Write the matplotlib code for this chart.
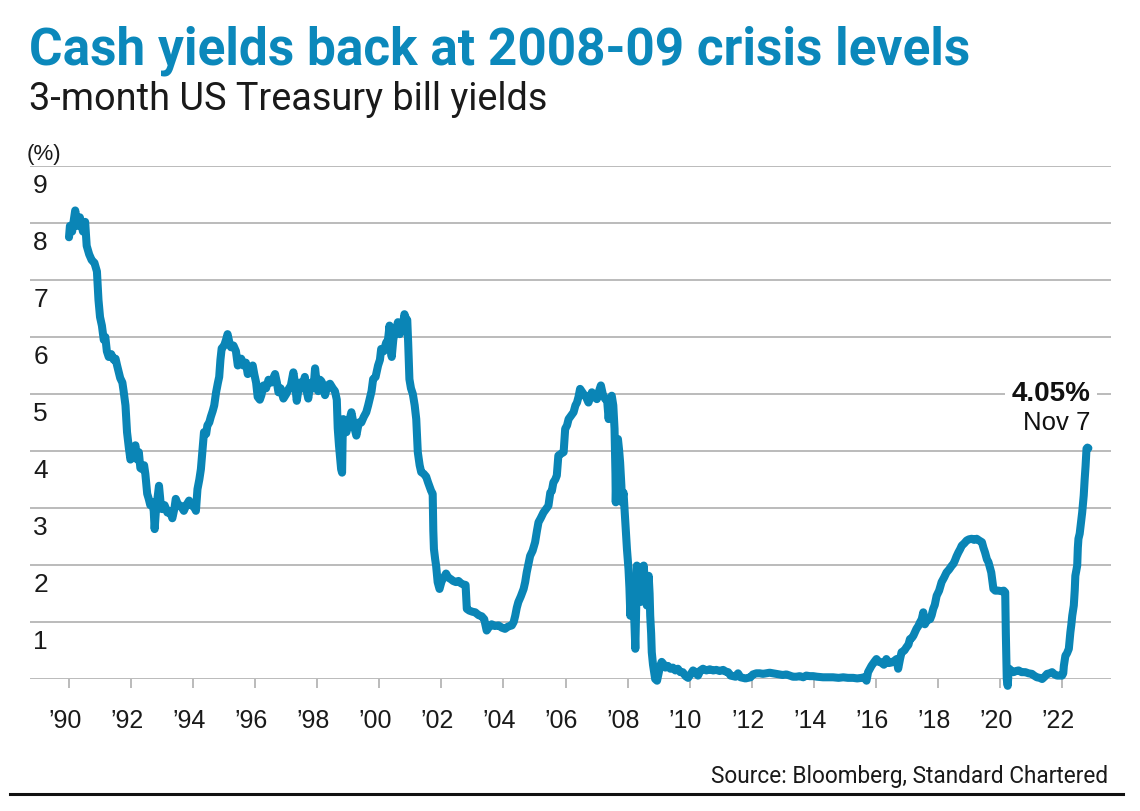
import matplotlib
matplotlib.use("Agg")
import matplotlib.pyplot as plt
from matplotlib.lines import Line2D

W, H, DPI = 1140, 812, 100
BLUE = "#0a85b6"
TITLE_BLUE = "#0b88bb"
GRID = "#a8a8a8"

title = "Cash yields back at 2008-09 crisis levels"
subtitle = "3-month US Treasury bill yields"
unit = "(%)"
source = "Source: Bloomberg, Standard Chartered"
last_value = "4.05%"
last_date = "Nov 7"

y_ticks = [1, 2, 3, 4, 5, 6, 7, 8, 9]
x_ticks = list(range(1990, 2023, 2))
x_labels = ["\u2019%02d" % (y % 100) for y in x_ticks]

# 3-month bill yield (%); dates as decimal years
dates = [
    1990.00, 1990.03, 1990.10, 1990.20, 1990.28, 1990.35, 1990.45, 1990.52, 1990.57, 1990.65,
    1990.73, 1990.82, 1990.90, 1990.95, 1991.00, 1991.06, 1991.12, 1991.17, 1991.22, 1991.28,
    1991.36, 1991.44, 1991.50, 1991.55, 1991.65, 1991.72, 1991.76, 1991.82, 1991.87, 1991.93,
    1991.98, 1992.05, 1992.14, 1992.20, 1992.25, 1992.30, 1992.36, 1992.42, 1992.46, 1992.52,
    1992.57, 1992.62, 1992.68, 1992.73, 1992.76, 1992.80, 1992.85, 1992.90, 1992.95, 1993.00,
    1993.08, 1993.17, 1993.25, 1993.33, 1993.40, 1993.44, 1993.52, 1993.60, 1993.70, 1993.78,
    1993.87, 1993.93, 1993.98, 1994.05, 1994.09, 1994.14, 1994.20, 1994.25, 1994.30, 1994.35,
    1994.42, 1994.46, 1994.52, 1994.57, 1994.63, 1994.68, 1994.74, 1994.80, 1994.84, 1994.88,
    1994.92, 1995.00, 1995.06, 1995.11, 1995.17, 1995.22, 1995.30, 1995.38, 1995.44, 1995.50,
    1995.55, 1995.62, 1995.70, 1995.76, 1995.84, 1995.92, 1995.97, 1996.03, 1996.08, 1996.15,
    1996.20, 1996.27, 1996.35, 1996.43, 1996.52, 1996.64, 1996.70, 1996.75, 1996.82, 1996.91,
    1997.00, 1997.07, 1997.15, 1997.23, 1997.28, 1997.34, 1997.40, 1997.44, 1997.52, 1997.60,
    1997.66, 1997.71, 1997.77, 1997.82, 1997.88, 1997.93, 1997.98, 1998.03, 1998.09, 1998.14,
    1998.20, 1998.25, 1998.33, 1998.41, 1998.50, 1998.57, 1998.63, 1998.66, 1998.70, 1998.73,
    1998.77, 1998.80, 1998.82, 1998.84, 1998.90, 1998.94, 1999.02, 1999.10, 1999.18, 1999.26,
    1999.34, 1999.42, 1999.50, 1999.58, 1999.64, 1999.69, 1999.75, 1999.80, 1999.88, 1999.96,
    2000.02, 2000.06, 2000.14, 2000.22, 2000.28, 2000.33, 2000.37, 2000.40, 2000.45, 2000.49,
    2000.55, 2000.60, 2000.66, 2000.71, 2000.76, 2000.81, 2000.86, 2000.90, 2000.93, 2000.97,
    2001.02, 2001.08, 2001.14, 2001.19, 2001.22, 2001.24, 2001.30, 2001.35, 2001.43, 2001.51,
    2001.57, 2001.61, 2001.67, 2001.72, 2001.74, 2001.76, 2001.80, 2001.83, 2001.88, 2001.94,
    2002.00, 2002.04, 2002.10, 2002.15, 2002.22, 2002.31, 2002.38, 2002.47, 2002.55, 2002.63,
    2002.70, 2002.78, 2002.82, 2002.90, 2003.00, 2003.09, 2003.20, 2003.30, 2003.38, 2003.46,
    2003.52, 2003.62, 2003.72, 2003.84, 2003.95, 2004.05, 2004.15, 2004.27, 2004.33, 2004.38,
    2004.43, 2004.48, 2004.56, 2004.65, 2004.70, 2004.75, 2004.80, 2004.86, 2004.94, 2005.02,
    2005.08, 2005.13, 2005.20, 2005.29, 2005.37, 2005.45, 2005.51, 2005.56, 2005.61, 2005.67,
    2005.72, 2005.77, 2005.85, 2005.94, 2005.99, 2006.05, 2006.10, 2006.18, 2006.26, 2006.32,
    2006.37, 2006.42, 2006.47, 2006.52, 2006.58, 2006.66, 2006.74, 2006.80, 2006.85, 2006.93,
    2007.01, 2007.08, 2007.14, 2007.20, 2007.28, 2007.34, 2007.39, 2007.44, 2007.49, 2007.54,
    2007.58, 2007.61, 2007.62, 2007.65, 2007.69, 2007.73, 2007.76, 2007.80, 2007.82, 2007.87,
    2007.92, 2007.98, 2008.03, 2008.06, 2008.09, 2008.12, 2008.14, 2008.20, 2008.25, 2008.28,
    2008.30, 2008.36, 2008.41, 2008.46, 2008.52, 2008.57, 2008.62, 2008.68, 2008.71, 2008.73,
    2008.76, 2008.78, 2008.82, 2008.84, 2008.89, 2008.95, 2009.00, 2009.05, 2009.10, 2009.16,
    2009.22, 2009.30, 2009.38, 2009.46, 2009.54, 2009.62, 2009.70, 2009.78, 2009.87, 2009.95,
    2010.03, 2010.11, 2010.19, 2010.27, 2010.35, 2010.43, 2010.54, 2010.65, 2010.76, 2010.86,
    2010.97, 2011.08, 2011.16, 2011.24, 2011.32, 2011.40, 2011.48, 2011.56, 2011.64, 2011.72,
    2011.80, 2011.88, 2011.96, 2012.04, 2012.15, 2012.26, 2012.36, 2012.47, 2012.58, 2012.69,
    2012.80, 2012.90, 2013.00, 2013.12, 2013.22, 2013.33, 2013.44, 2013.55, 2013.66, 2013.76,
    2013.87, 2013.98, 2014.10, 2014.30, 2014.50, 2014.62, 2014.80, 2014.95, 2015.10, 2015.27,
    2015.40, 2015.54, 2015.62, 2015.70, 2015.75, 2015.86, 2015.95, 2016.02, 2016.10, 2016.18,
    2016.26, 2016.34, 2016.42, 2016.51, 2016.60, 2016.67, 2016.72, 2016.78, 2016.83, 2016.92,
    2016.99, 2017.05, 2017.10, 2017.16, 2017.21, 2017.26, 2017.31, 2017.37, 2017.42, 2017.48,
    2017.53, 2017.58, 2017.65, 2017.75, 2017.80, 2017.85, 2017.90, 2017.96, 2018.04, 2018.12,
    2018.20, 2018.28, 2018.36, 2018.45, 2018.50, 2018.55, 2018.60, 2018.66, 2018.72, 2018.77,
    2018.85, 2018.93, 2019.00, 2019.09, 2019.17, 2019.25, 2019.33, 2019.42, 2019.47, 2019.52,
    2019.58, 2019.63, 2019.68, 2019.72, 2019.76, 2019.79, 2019.85, 2019.95, 2020.05, 2020.12,
    2020.17, 2020.19, 2020.22, 2020.25, 2020.27, 2020.30, 2020.37, 2020.44, 2020.52, 2020.60,
    2020.70, 2020.82, 2020.92, 2021.03, 2021.10, 2021.19, 2021.28, 2021.36, 2021.44, 2021.52,
    2021.60, 2021.68, 2021.76, 2021.84, 2021.92, 2022.00, 2022.04, 2022.06, 2022.11, 2022.16,
    2022.22, 2022.25, 2022.27, 2022.30, 2022.33, 2022.38, 2022.41, 2022.43, 2022.49, 2022.51,
    2022.53, 2022.57, 2022.60, 2022.65, 2022.68, 2022.70, 2022.73, 2022.76, 2022.79, 2022.82,
    2022.85,
]
yields = [
    7.75, 7.95, 7.85, 8.22, 7.95, 8.10, 7.85, 8.02, 7.60, 7.45,
    7.35, 7.30, 7.15, 6.65, 6.35, 6.20, 5.95, 6.00, 5.75, 5.65,
    5.70, 5.60, 5.62, 5.50, 5.28, 5.20, 5.05, 4.80, 4.33, 4.05,
    3.85, 3.95, 4.10, 3.85, 3.98, 3.70, 3.68, 3.75, 3.60, 3.25,
    3.16, 3.05, 3.10, 2.95, 2.63, 2.95, 3.16, 3.39, 3.10, 2.98,
    3.05, 2.92, 2.95, 2.82, 3.00, 3.16, 3.05, 3.04, 2.95, 3.05,
    3.13, 3.05, 3.04, 3.00, 2.95, 3.33, 3.50, 3.68, 4.00, 4.33,
    4.30, 4.45, 4.50, 4.60, 4.70, 4.80, 5.03, 5.20, 5.30, 5.60,
    5.80, 5.85, 5.95, 6.05, 5.90, 5.82, 5.85, 5.75, 5.50, 5.60,
    5.62, 5.50, 5.55, 5.35, 5.45, 5.50, 5.35, 5.20, 4.95, 4.90,
    4.98, 5.15, 5.10, 5.25, 5.20, 5.35, 5.20, 5.03, 5.10, 4.92,
    5.00, 5.08, 5.15, 5.38, 5.20, 4.88, 5.10, 5.20, 5.10, 5.30,
    5.05, 4.92, 5.15, 5.20, 5.10, 5.45, 5.20, 5.05, 5.25, 5.22,
    5.10, 4.98, 5.15, 5.18, 5.10, 5.05, 4.90, 4.40, 4.10, 3.92,
    3.68, 3.62, 4.30, 4.56, 4.40, 4.33, 4.50, 4.68, 4.45, 4.27,
    4.50, 4.50, 4.60, 4.68, 4.80, 4.91, 5.05, 5.26, 5.30, 5.50,
    5.60, 5.79, 5.75, 5.90, 5.95, 6.20, 5.75, 5.65, 5.95, 6.08,
    6.15, 6.26, 6.05, 6.14, 6.20, 6.40, 6.32, 6.30, 5.90, 5.26,
    5.10, 5.00, 4.80, 4.56, 4.20, 3.98, 3.75, 3.63, 3.60, 3.55,
    3.45, 3.39, 3.30, 3.25, 2.60, 2.28, 2.10, 1.99, 1.70, 1.58,
    1.70, 1.75, 1.80, 1.85, 1.78, 1.75, 1.72, 1.70, 1.72, 1.68,
    1.66, 1.65, 1.23, 1.20, 1.18, 1.17, 1.12, 1.10, 1.05, 0.85,
    0.90, 0.96, 0.93, 0.94, 0.90, 0.88, 0.92, 0.94, 1.00, 1.11,
    1.25, 1.35, 1.45, 1.58, 1.70, 1.87, 2.00, 2.16, 2.25, 2.40,
    2.60, 2.75, 2.82, 2.92, 2.98, 3.04, 3.27, 3.30, 3.45, 3.50,
    3.57, 3.92, 3.95, 3.98, 4.39, 4.45, 4.56, 4.62, 4.68, 4.80,
    4.85, 4.95, 5.09, 5.05, 5.00, 4.95, 4.85, 4.95, 5.03, 4.95,
    4.91, 5.05, 5.15, 5.00, 4.91, 4.90, 4.56, 4.90, 4.97, 4.80,
    4.39, 3.60, 3.10, 3.80, 4.21, 4.00, 3.80, 3.40, 3.10, 3.27,
    2.81, 2.28, 1.93, 1.60, 1.11, 1.40, 1.70, 1.30, 0.53, 1.30,
    1.99, 1.60, 1.35, 1.70, 1.99, 1.60, 1.29, 1.81, 1.50, 1.11,
    0.80, 0.47, 0.25, 0.18, 0.00, -0.03, 0.10, 0.23, 0.30, 0.26,
    0.20, 0.23, 0.18, 0.20, 0.15, 0.18, 0.12, 0.12, 0.05, 0.02,
    0.08, 0.15, 0.12, 0.06, 0.15, 0.18, 0.15, 0.17, 0.15, 0.16,
    0.14, 0.16, 0.13, 0.12, 0.06, 0.05, 0.04, 0.10, 0.03, 0.02,
    0.01, 0.02, 0.03, 0.08, 0.10, 0.10, 0.09, 0.10, 0.11, 0.10,
    0.09, 0.08, 0.07, 0.08, 0.06, 0.04, 0.04, 0.05, 0.03, 0.06,
    0.05, 0.05, 0.04, 0.03, 0.03, 0.03, 0.02, 0.03, 0.02, 0.02,
    0.01, 0.02, 0.03, -0.03, 0.12, 0.23, 0.30, 0.35, 0.30, 0.29,
    0.25, 0.35, 0.28, 0.29, 0.32, 0.35, 0.18, 0.35, 0.47, 0.50,
    0.56, 0.60, 0.70, 0.72, 0.76, 0.82, 0.88, 0.93, 0.99, 1.05,
    1.17, 0.96, 1.03, 1.05, 1.12, 1.23, 1.30, 1.46, 1.55, 1.70,
    1.78, 1.87, 1.92, 1.99, 2.02, 2.08, 2.15, 2.22, 2.28, 2.34,
    2.38, 2.43, 2.45, 2.46, 2.44, 2.46, 2.43, 2.40, 2.30, 2.22,
    2.10, 2.05, 1.95, 1.87, 1.70, 1.58, 1.55, 1.55, 1.54, 1.55,
    1.52, 0.80, 0.00, -0.12, 0.05, 0.18, 0.14, 0.12, 0.14, 0.15,
    0.12, 0.12, 0.10, 0.09, 0.06, 0.03, 0.02, 0.00, 0.04, 0.09,
    0.10, 0.12, 0.08, 0.06, 0.06, 0.06, 0.10, 0.23, 0.41, 0.45,
    0.53, 0.70, 0.82, 0.95, 1.11, 1.29, 1.55, 1.81, 1.99, 2.30,
    2.46, 2.55, 2.69, 2.92, 3.10, 3.22, 3.50, 3.74, 4.04, 4.06,
    4.05,
]
assert len(dates) == len(yields)


def fx(px):
    return px / W


def fy(py):
    return 1 - py / H


def fit_width(text, renderer, target_px):
    bb = text.get_window_extent(renderer)
    text.set_fontsize(text.get_fontsize() * target_px / bb.width)


fig = plt.figure(figsize=(W / DPI, H / DPI), dpi=DPI)
ax = fig.add_axes([fx(30), fy(680), (1111 - 30) / W, (680 - 167) / H])

# 1990 sits at x=69px, 2022 at x=1062px
px_per_year = (1062 - 69) / 32
ax.set_xlim(1990 - 39 / px_per_year, 1990 + 1042 / px_per_year)
ax.set_ylim(0, 9)
for s in ax.spines.values():
    s.set_visible(False)
ax.set_yticks([])
ax.set_xticks(x_ticks)
ax.tick_params(axis="x", length=6.5, width=1.1, color=GRID, labelbottom=False)

for v in [0] + y_ticks:
    ax.axhline(v, color=GRID, lw=1.1, zorder=1)

for v in y_ticks:
    ax.text(0.003, v - 0.45, str(v), transform=ax.get_yaxis_transform(),
            ha="left", va="baseline", fontsize=19, family="Liberation Sans",
            color="#1a1a1a")
shift = 4 / px_per_year
for yr, lab in zip(x_ticks, x_labels):
    ax.text(yr - shift, -0.845, lab, ha="center", va="baseline", fontsize=18,
            family="Liberation Sans", color="#1a1a1a", clip_on=False)

ax.plot(dates, yields, color=BLUE, lw=5.8, solid_joinstyle="round",
        solid_capstyle="round", clip_on=False, zorder=3)

ax.annotate(last_value, xy=(dates[-1], yields[-1]), xytext=(1.5, 35),
            textcoords="offset points", ha="right", va="baseline",
            fontsize=20, fontweight="bold", family="Liberation Sans", color="#111111",
            bbox=dict(facecolor="white", edgecolor="none", pad=5))
ax.annotate(last_date, xy=(dates[-1], yields[-1]), xytext=(1.5, 14),
            textcoords="offset points", ha="right", va="baseline",
            fontsize=18.5, family="Liberation Sans", color="#111111")

t1 = fig.text(fx(29), fy(65), title, fontsize=36, fontweight="bold",
              family="Roboto", color=TITLE_BLUE, va="baseline")
t2 = fig.text(fx(29), fy(110), subtitle, fontsize=28, fontweight="normal",
              family="Roboto", color="#1a1a1a", va="baseline")
fig.text(fx(27), fy(160), unit, fontsize=16, family="Liberation Sans",
         color="#1a1a1a", va="baseline")
t3 = fig.text(fx(1108), fy(783), source, fontsize=16, family="Roboto",
              color="#1a1a1a", ha="right", va="baseline")

renderer = fig.canvas.get_renderer()
fit_width(t1, renderer, 942)
fit_width(t2, renderer, 519)
fit_width(t3, renderer, 399)

fig.add_artist(Line2D([fx(10), fx(1123)], [fy(795), fy(795)], color="#111111", lw=2.2))

fig.savefig("out.png", dpi=DPI)
